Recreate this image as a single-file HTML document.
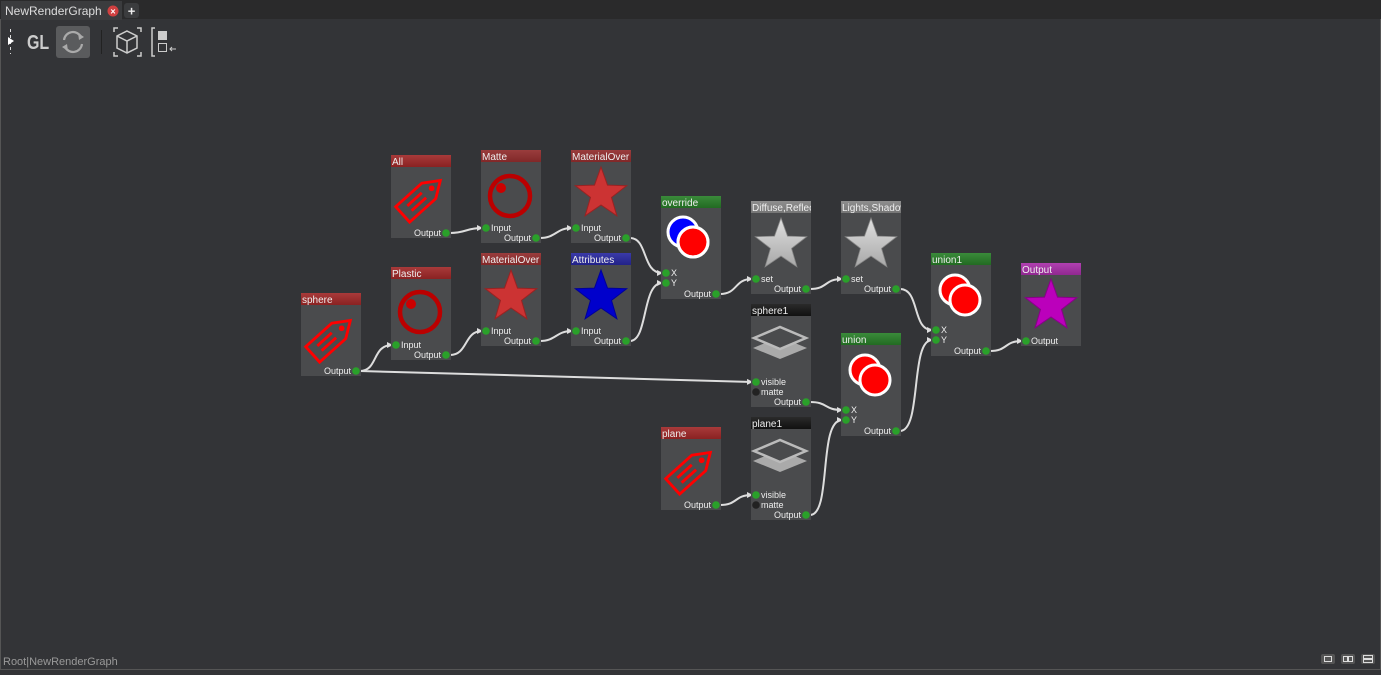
<!DOCTYPE html>
<html><head><meta charset="utf-8"><style>
html,body{margin:0;padding:0;background:#333437;}
body{width:1381px;height:670px;overflow:hidden;position:relative;font-family:"Liberation Sans",sans-serif;}
svg text{font-family:"Liberation Sans",sans-serif;}
</style></head><body>
<svg width="1381" height="670" viewBox="0 0 1381 670" xmlns="http://www.w3.org/2000/svg">
<defs>
<linearGradient id="gr" x1="0" y1="0" x2="0" y2="1"><stop offset="0" stop-color="#a83a3a"/><stop offset="1" stop-color="#8a2222"/></linearGradient>
<linearGradient id="gg" x1="0" y1="0" x2="0" y2="1"><stop offset="0" stop-color="#3a8a3a"/><stop offset="1" stop-color="#226a22"/></linearGradient>
<linearGradient id="gb" x1="0" y1="0" x2="0" y2="1"><stop offset="0" stop-color="#3a3aa8"/><stop offset="1" stop-color="#222288"/></linearGradient>
<linearGradient id="gp" x1="0" y1="0" x2="0" y2="1"><stop offset="0" stop-color="#b040b0"/><stop offset="1" stop-color="#902890"/></linearGradient>
<linearGradient id="gk" x1="0" y1="0" x2="0" y2="1"><stop offset="0" stop-color="#2a2a2a"/><stop offset="1" stop-color="#111"/></linearGradient>
<linearGradient id="gy" x1="0" y1="0" x2="0" y2="1"><stop offset="0" stop-color="#8e8e8e"/><stop offset="1" stop-color="#767676"/></linearGradient>
<linearGradient id="sw" x1="0" y1="0" x2="0" y2="1"><stop offset="0" stop-color="#e0e0e0"/><stop offset="1" stop-color="#a8a8a8"/></linearGradient>
<polygon id="star" points="0,-27 6.5,-8.9 25.7,-8.3 10.5,3.4 15.9,21.8 0,11 -15.9,21.8 -10.5,3.4 -25.7,-8.3 -6.5,-8.9"/>
<g id="tag" transform="rotate(-42) scale(1.3)">
<path d="M-20,-8 L7,-8 L19,0 L7,8 L-20,8 Z" fill="none" stroke="#f00" stroke-width="2.2" stroke-linejoin="miter"/>
<circle cx="10" cy="0" r="2.2" fill="#f00"/>
<line x1="-13" y1="-2.5" x2="2" y2="-2.5" stroke="#f00" stroke-width="2.2"/>
<line x1="-13" y1="2.5" x2="2" y2="2.5" stroke="#f00" stroke-width="2.2"/>
</g>
<g id="ring"><circle r="20" fill="none" stroke="#b00" stroke-width="4.5"/><circle cx="-9" cy="-8" r="5" fill="#c00"/></g>
<g id="ovl"><circle cx="-5" cy="-5" r="15" fill="#00f" stroke="#fff" stroke-width="3"/><circle cx="5" cy="5" r="15" fill="#f00" stroke="#fff" stroke-width="3"/><circle cx="5" cy="5" r="15" fill="none" stroke="#fff" stroke-width="3"/></g>
<g id="ovr"><circle cx="-5" cy="-5" r="15" fill="#f00" stroke="#fff" stroke-width="3"/><circle cx="5" cy="5" r="15" fill="#f00" stroke="#fff" stroke-width="3"/></g>
<g id="lay"><polygon points="-27,6 0,17 27,6 0,-5" fill="#aaa"/><polygon points="-26,-4 0,-15 26,-4 0,7" fill="#4a4b4d" stroke="#bbb" stroke-width="2.5"/></g>
<circle id="pd" r="3.8" fill="#2aa02a"/>
<marker id="ar" markerWidth="6" markerHeight="6" refX="5" refY="3" orient="auto" markerUnits="userSpaceOnUse"><path d="M0,0 L6,3 L0,6 Z" fill="#ddd"/></marker>
</defs>

<rect x="0.5" y="0.5" width="1380" height="669" fill="none" stroke="#555"/>
<rect x="0" y="0" width="1381" height="19" fill="#2a2a2b"/>
<rect x="1" y="1" width="121" height="19" fill="#3b3c3e"/>
<text x="5" y="15" font-size="12" fill="#ddd">NewRenderGraph</text>
<circle cx="113" cy="11" r="5.5" fill="#d04040"/><text x="113" y="14.5" font-size="9" fill="#fff" text-anchor="middle" font-weight="bold">×</text>
<rect x="124" y="3" width="15" height="15" rx="3" fill="#3b3c3e"/><text x="131.5" y="15.5" font-size="13" fill="#eee" text-anchor="middle" font-weight="bold">+</text>
<line x1="10.5" y1="29" x2="10.5" y2="54" stroke="#ddd" stroke-dasharray="3,3"/>
<polygon points="8,37 14,41 8,45" fill="#fff"/>
<text x="27" y="49" font-size="20" fill="#ccc" font-weight="bold" transform="translate(27,49) scale(0.8,1) translate(-27,-49)">GL</text>
<rect x="56" y="26" width="34" height="32" rx="3" fill="#5a5b5d"/>
<path d="M64,40 A9,9 0 0 1 81,37 M82,44 A9,9 0 0 1 65,47" fill="none" stroke="#aaa" stroke-width="2.2"/>
<polygon points="78,33 84,37 79,40" fill="#aaa"/><polygon points="68,51 62,47 67,44" fill="#aaa"/>
<line x1="101.5" y1="30" x2="101.5" y2="54" stroke="#222"/>
<path d="M114,32v-4h4 M137,28h4v4 M141,52v4h-4 M118,56h-4v-4" stroke="#ccc" fill="none" stroke-width="1.5"/>
<path d="M127,31 L137,36 L137,48 L127,53 L117,48 L117,36 Z M117,36 L127,41 L137,36 M127,41 L127,53" stroke="#ccc" fill="none" stroke-width="1.5"/>
<path d="M155,28h-3v28h3" stroke="#ccc" fill="none" stroke-width="1.5"/>
<rect x="158" y="31" width="9" height="9" fill="#ccc"/><rect x="158.5" y="43.5" width="8" height="8" fill="none" stroke="#ccc"/>
<path d="M170,49h6 M172,47l-2,2 2,2" stroke="#ccc" fill="none"/>

<g fill="none" stroke="#ddd" stroke-width="2" marker-end="url(#ar)">
<path d="M360,371 C378,371 372,345 392,345"/>
<path d="M360,371 L752,382"/>
<path d="M450,233 C466,233 466,228 482,228"/>
<path d="M540,238 C556,238 556,228 572,228"/>
<path d="M450,355 C468,355 464,331 482,331"/>
<path d="M540,341 C556,341 556,331 572,331"/>
<path d="M630,238 C648,238 642,273 662,273"/>
<path d="M630,341 C648,341 642,283 662,283"/>
<path d="M720,294 C738,294 734,279 752,279"/>
<path d="M810,289 C828,289 824,279 842,279"/>
<path d="M900,289 C920,289 912,330 932,330"/>
<path d="M810,402 C828,402 824,410 842,410"/>
<path d="M810,515 C832,515 818,420 842,420"/>
<path d="M720,505 C738,505 734,495 752,495"/>
<path d="M900,431 C922,431 910,340 932,340"/>
<path d="M990,351 C1008,351 1004,341 1022,341"/>
</g>

<g font-size="9" fill="#eee">
<svg x="301" y="293" width="60" height="83"><rect width="60" height="83" fill="#4a4b4d"/><rect width="60" height="12" fill="url(#gr)"/><text x="1" y="10" font-size="10">sphere</text>
<use href="#tag" x="31" y="44"/><text x="50" y="81" text-anchor="end">Output</text><use href="#pd" x="55" y="78"/></svg>
<svg x="391" y="155" width="60" height="83"><rect width="60" height="83" fill="#4a4b4d"/><rect width="60" height="12" fill="url(#gr)"/><text x="1" y="10" font-size="10">All</text>
<use href="#tag" x="31" y="42"/><text x="50" y="81" text-anchor="end">Output</text><use href="#pd" x="55" y="78"/></svg>
<svg x="391" y="267" width="60" height="93"><rect width="60" height="93" fill="#4a4b4d"/><rect width="60" height="12" fill="url(#gr)"/><text x="1" y="10" font-size="10">Plastic</text>
<use href="#ring" x="29" y="45"/><use href="#pd" x="5" y="78"/><text x="10" y="81">Input</text><text x="50" y="91" text-anchor="end">Output</text><use href="#pd" x="55" y="88"/></svg>
<svg x="481" y="150" width="60" height="93"><rect width="60" height="93" fill="#4a4b4d"/><rect width="60" height="12" fill="url(#gr)" opacity="0.85"/><text x="1" y="10" font-size="10">Matte</text>
<use href="#ring" x="29" y="46"/><use href="#pd" x="5" y="78"/><text x="10" y="81">Input</text><text x="50" y="91" text-anchor="end">Output</text><use href="#pd" x="55" y="88"/></svg>
<svg x="571" y="150" width="60" height="93"><rect width="60" height="93" fill="#4a4b4d"/><rect width="60" height="12" fill="url(#gr)" opacity="0.85"/><text x="1" y="10" font-size="10">MaterialOver</text>
<use href="#star" x="30" y="44" fill="#c33" stroke="#922" stroke-width="1"/><use href="#pd" x="5" y="78"/><text x="10" y="81">Input</text><text x="50" y="91" text-anchor="end">Output</text><use href="#pd" x="55" y="88"/></svg>
<svg x="481" y="253" width="60" height="93"><rect width="60" height="93" fill="#4a4b4d"/><rect width="60" height="12" fill="url(#gr)" opacity="0.85"/><text x="1" y="10" font-size="10">MaterialOver</text>
<use href="#star" x="30" y="44" fill="#c33" stroke="#922" stroke-width="1"/><use href="#pd" x="5" y="78"/><text x="10" y="81">Input</text><text x="50" y="91" text-anchor="end">Output</text><use href="#pd" x="55" y="88"/></svg>
<svg x="571" y="253" width="60" height="93"><rect width="60" height="93" fill="#4a4b4d"/><rect width="60" height="12" fill="url(#gb)"/><text x="1" y="10" font-size="10">Attributes</text>
<use href="#star" x="30" y="44" fill="#00c" stroke="#009" stroke-width="1"/><use href="#pd" x="5" y="78"/><text x="10" y="81">Input</text><text x="50" y="91" text-anchor="end">Output</text><use href="#pd" x="55" y="88"/></svg>
<svg x="661" y="196" width="60" height="103"><rect width="60" height="103" fill="#4a4b4d"/><rect width="60" height="12" fill="url(#gg)"/><text x="1" y="10" font-size="10">override</text>
<use href="#ovl" x="27" y="41"/><use href="#pd" x="5" y="77"/><text x="10" y="80">X</text><use href="#pd" x="5" y="87"/><text x="10" y="90">Y</text><text x="50" y="101" text-anchor="end">Output</text><use href="#pd" x="55" y="98"/></svg>
<svg x="751" y="201" width="60" height="93"><rect width="60" height="93" fill="#4a4b4d"/><rect width="60" height="12" fill="url(#gy)"/><text x="1" y="10" font-size="10" fill="#eee">Diffuse,Reflec</text>
<use href="#star" x="30" y="44" fill="url(#sw)" stroke="#888" stroke-width="0.8"/><use href="#pd" x="5" y="78"/><text x="10" y="81">set</text><text x="50" y="91" text-anchor="end">Output</text><use href="#pd" x="55" y="88"/></svg>
<svg x="841" y="201" width="60" height="93"><rect width="60" height="93" fill="#4a4b4d"/><rect width="60" height="12" fill="url(#gy)"/><text x="1" y="10" font-size="10" fill="#eee">Lights,Shadow</text>
<use href="#star" x="30" y="44" fill="url(#sw)" stroke="#888" stroke-width="0.8"/><use href="#pd" x="5" y="78"/><text x="10" y="81">set</text><text x="50" y="91" text-anchor="end">Output</text><use href="#pd" x="55" y="88"/></svg>
<svg x="751" y="304" width="60" height="103"><rect width="60" height="103" fill="#4a4b4d"/><rect width="60" height="12" fill="url(#gk)"/><text x="1" y="10" font-size="10">sphere1</text>
<use href="#lay" x="29" y="38"/><use href="#pd" x="5" y="78"/><text x="10" y="81">visible</text><circle cx="5" cy="88" r="3.8" fill="#222"/><text x="10" y="91">matte</text><text x="50" y="101" text-anchor="end">Output</text><use href="#pd" x="55" y="98"/></svg>
<svg x="841" y="333" width="60" height="103"><rect width="60" height="103" fill="#4a4b4d"/><rect width="60" height="12" fill="url(#gg)"/><text x="1" y="10" font-size="10">union</text>
<use href="#ovr" x="29" y="42"/><use href="#pd" x="5" y="77"/><text x="10" y="80">X</text><use href="#pd" x="5" y="87"/><text x="10" y="90">Y</text><text x="50" y="101" text-anchor="end">Output</text><use href="#pd" x="55" y="98"/></svg>
<svg x="661" y="427" width="60" height="83"><rect width="60" height="83" fill="#4a4b4d"/><rect width="60" height="12" fill="url(#gr)"/><text x="1" y="10" font-size="10">plane</text>
<use href="#tag" x="31" y="42"/><text x="50" y="81" text-anchor="end">Output</text><use href="#pd" x="55" y="78"/></svg>
<svg x="751" y="417" width="60" height="103"><rect width="60" height="103" fill="#4a4b4d"/><rect width="60" height="12" fill="url(#gk)"/><text x="1" y="10" font-size="10">plane1</text>
<use href="#lay" x="29" y="38"/><use href="#pd" x="5" y="78"/><text x="10" y="81">visible</text><circle cx="5" cy="88" r="3.8" fill="#222"/><text x="10" y="91">matte</text><text x="50" y="101" text-anchor="end">Output</text><use href="#pd" x="55" y="98"/></svg>
<svg x="931" y="253" width="60" height="103"><rect width="60" height="103" fill="#4a4b4d"/><rect width="60" height="12" fill="url(#gg)"/><text x="1" y="10" font-size="10">union1</text>
<use href="#ovr" x="29" y="42"/><use href="#pd" x="5" y="77"/><text x="10" y="80">X</text><use href="#pd" x="5" y="87"/><text x="10" y="90">Y</text><text x="50" y="101" text-anchor="end">Output</text><use href="#pd" x="55" y="98"/></svg>
<svg x="1021" y="263" width="60" height="83"><rect width="60" height="83" fill="#4a4b4d"/><rect width="60" height="12" fill="url(#gp)"/><text x="1" y="10" font-size="10">Output</text>
<use href="#star" x="30" y="43" fill="#b0b" stroke="#808" stroke-width="1"/><use href="#pd" x="5" y="78"/><text x="10" y="81">Output</text></svg>
</g>

<text x="3" y="665" font-size="11" fill="#999">Root|NewRenderGraph</text>
<g fill="none" stroke="#ddd">
<rect x="1321" y="654" width="14" height="10" rx="2" fill="#555" stroke="none"/><rect x="1324.5" y="656.5" width="7" height="5" stroke="#ddd"/>
<rect x="1341" y="654" width="14" height="10" rx="2" fill="#555" stroke="none"/><rect x="1343.5" y="656.5" width="4" height="5"/><rect x="1348.5" y="656.5" width="4" height="5"/>
<rect x="1361" y="654" width="14" height="10" rx="2" fill="#555" stroke="none"/><rect x="1363.5" y="655.5" width="9" height="3"/><rect x="1363.5" y="659.5" width="9" height="3"/>
</g>
</svg>
</body></html>
